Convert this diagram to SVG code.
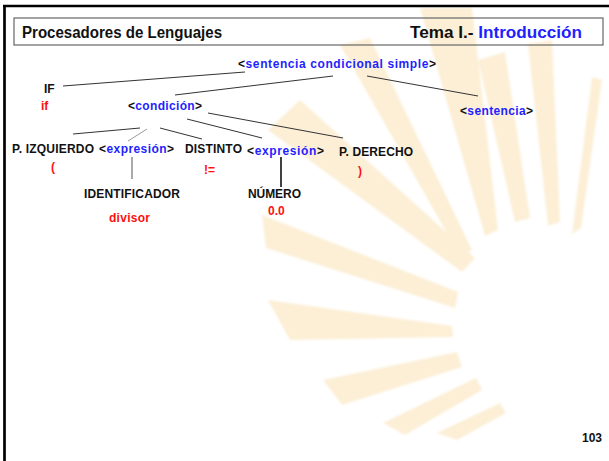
<svg xmlns="http://www.w3.org/2000/svg" width="609" height="461" viewBox="0 0 609 461">
<style>
.t{font-family:"Liberation Sans",Arial,sans-serif;font-weight:bold;font-size:12px;fill:#111}
.b{fill:#1f1fff}
.r{fill:#ff1010}
.h{font-family:"Liberation Sans",Arial,sans-serif;font-weight:bold;font-size:16px;fill:#111}
.ray{fill:#fcefd6}
.c{stroke:#333;stroke-width:1;fill:none}
</style>
<defs>
<filter id="soft" x="-5%" y="-5%" width="110%" height="110%"><feGaussianBlur stdDeviation="1.2"/></filter>
</defs>
<rect width="609" height="461" fill="#fff"/>
<g id="sunburst" filter="url(#soft)">
<polygon class="ray" points="592,77 602,80 581,228 572,234"/>
<polygon class="ray" points="528,44 552,40 560,222 548,226"/>
<polygon class="ray" points="478,60 505,52 530,218 515,222"/>
<polygon class="ray" points="420,8 472,8 498,230 485,236"/>
<polygon class="ray" points="340,45 370,38 472,250 460,256"/>
<polygon class="ray" points="268,130 300,100 475,258 462,272"/>
<polygon class="ray" points="262,215 266,248 455,308 458,292"/>
<polygon class="ray" points="268,300 290,340 453,337 452,326"/>
<polygon class="ray" points="323,380 342,405 462,367 457,352"/>
<polygon class="ray" points="383,423 405,435 482,390 476,378"/>
<polygon class="ray" points="437,433 457,440 506,413 500,403"/>
</g>
<g id="frame">
<line x1="3" y1="6" x2="609" y2="6" stroke="#000" stroke-width="2.5"/>
<line x1="4.5" y1="5" x2="4.5" y2="461" stroke="#000" stroke-width="2.7"/>
<rect x="14" y="18" width="589" height="27" fill="none" stroke="#666" stroke-width="1.2"/>
<text class="h" x="22" y="38" textLength="200" lengthAdjust="spacingAndGlyphs">Procesadores de Lenguajes</text>
<text class="h" x="410" y="38" textLength="172" lengthAdjust="spacingAndGlyphs">Tema I.- <tspan class="b">Introducción</tspan></text>
</g>
<g id="connectors">
<line class="c" x1="63" y1="86" x2="245" y2="72"/>
<line class="c" x1="175" y1="95" x2="333" y2="76"/>
<line class="c" x1="367" y1="76" x2="478" y2="96"/>
<line class="c" x1="73" y1="134" x2="140" y2="128"/>
<line x1="128" y1="141" x2="147" y2="129" stroke="#999" stroke-width="1"/>
<line class="c" x1="160" y1="128" x2="202" y2="139"/>
<line class="c" x1="187" y1="119" x2="262" y2="138"/>
<line class="c" x1="208" y1="113" x2="343" y2="138"/>
<line x1="132" y1="157" x2="132" y2="179" stroke="#555" stroke-width="1"/>
<line x1="281" y1="157" x2="281" y2="187" stroke="#000" stroke-width="1.5"/>
</g>
<g id="sentencia-condicional-simple"><text class="t" x="238" y="68" textLength="198" lengthAdjust="spacing">&lt;<tspan class="b">sentencia condicional simple</tspan>&gt;</text></g>
<g id="IF"><text class="t" x="44" y="93">IF</text><text class="t r" x="41" y="110">if</text></g>
<g id="condicion"><text class="t" x="128" y="110" textLength="74" lengthAdjust="spacing">&lt;<tspan class="b">condición</tspan>&gt;</text></g>
<g id="sentencia"><text class="t" x="460" y="115" textLength="73" lengthAdjust="spacing">&lt;<tspan class="b">sentencia</tspan>&gt;</text></g>
<g id="p-izquierdo"><text class="t" x="12" y="153" textLength="82" lengthAdjust="spacing">P. IZQUIERDO</text><text class="t r" x="51" y="171">(</text></g>
<g id="expresion1"><text class="t" x="99" y="153" textLength="75" lengthAdjust="spacing">&lt;<tspan class="b">expresión</tspan>&gt;</text></g>
<g id="distinto"><text class="t" x="185" y="153" textLength="57" lengthAdjust="spacing">DISTINTO</text><text class="t r" x="204" y="174">!=</text></g>
<g id="expresion2"><text class="t" x="247" y="155" textLength="77" lengthAdjust="spacing">&lt;<tspan class="b">expresión</tspan>&gt;</text></g>
<g id="p-derecho"><text class="t" x="339" y="156" textLength="74" lengthAdjust="spacing">P. DERECHO</text><text class="t r" x="358" y="175">)</text></g>
<g id="identificador"><text class="t" x="84" y="198" textLength="96" lengthAdjust="spacing">IDENTIFICADOR</text><text class="t r" x="109" y="222" textLength="41" lengthAdjust="spacing">divisor</text></g>
<g id="numero"><text class="t" x="248" y="198" textLength="53" lengthAdjust="spacing">NÚMERO</text><text class="t r" x="268" y="215">0.0</text></g>
<g id="page"><text class="t" x="582" y="442">103</text></g>
</svg>
